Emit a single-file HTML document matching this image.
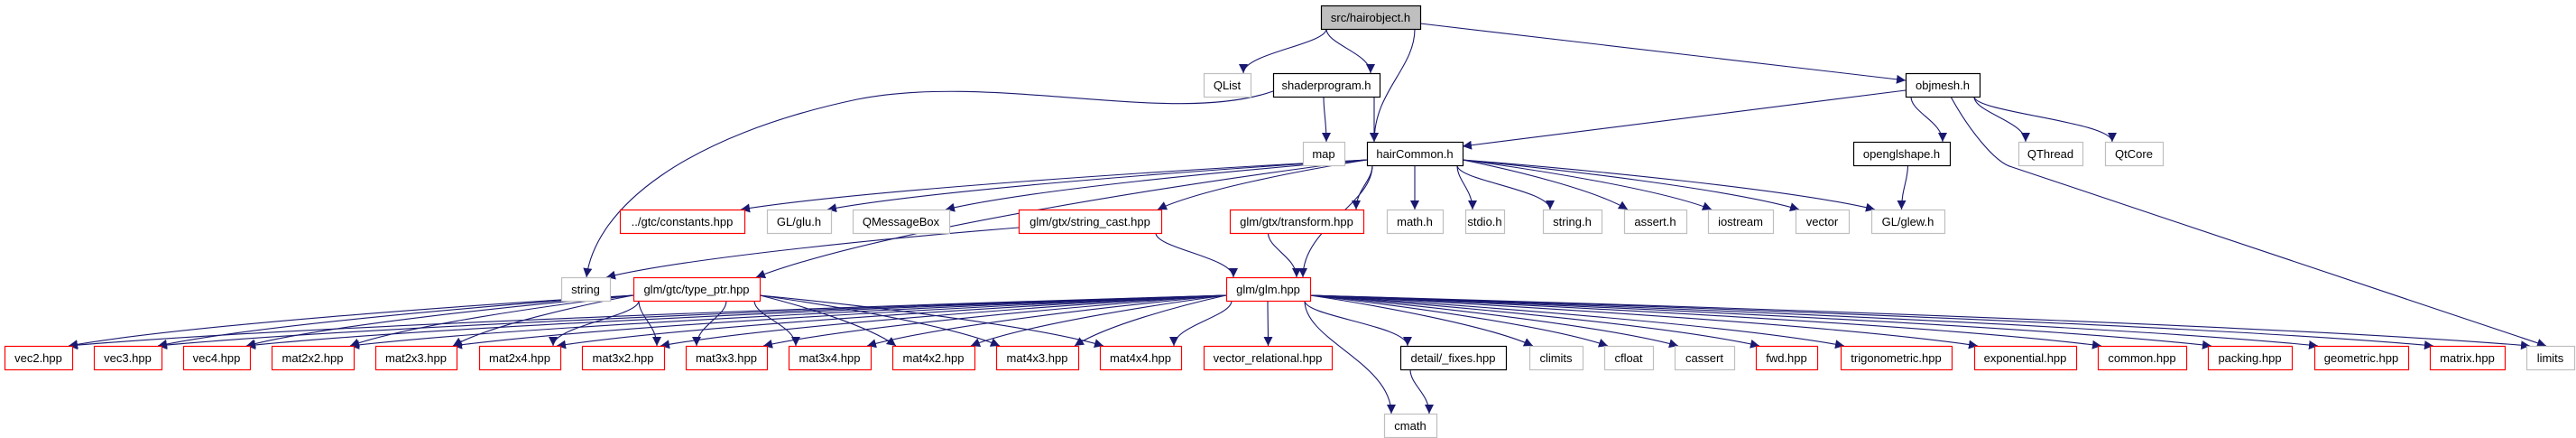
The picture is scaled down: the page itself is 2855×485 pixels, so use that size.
<!DOCTYPE html>
<html><head><meta charset="utf-8"><style>
html,body{margin:0;padding:0;background:#fff;}
svg{display:block;}
text{font-family:"Liberation Sans",sans-serif;font-size:13px;fill:#000;}
</style></head><body>
<svg id="g" width="2855" height="485" viewBox="0 0 2855 485" xmlns="http://www.w3.org/2000/svg">
<defs><marker id="ah" viewBox="0 0 10 10" refX="10" refY="5" markerWidth="10" markerHeight="10" markerUnits="userSpaceOnUse" orient="auto"><path d="M0,0 L10,5 L0,10 z" fill="#191970"/></marker></defs>
<g id="edges"></g>
<g id="nodes"></g>
</svg>
<script>
const rowY = [6, 81, 157, 232, 307, 383, 458];
const nodeIds = ["hairobject","QList","shaderprogram","map","hairCommon","objmesh","openglshape","QThread","QtCore",
"constants","glu","QMessageBox","string_cast","transform","math","stdio","stringh","assert","iostream","vector","glew",
"string","type_ptr","glm",
"vec2","vec3","vec4","mat2x2","mat2x3","mat2x4","mat3x2","mat3x3","mat3x4","mat4x2","mat4x3","mat4x4","vector_relational","fixes","climits","cfloat","cassert","fwd","trig","exponential","common","packing","geometric","matrix","limits",
"cmath"];
const nodeLabels = ["src/hairobject.h","QList","shaderprogram.h","map","hairCommon.h","objmesh.h","openglshape.h","QThread","QtCore",
"../gtc/constants.hpp","GL/glu.h","QMessageBox","glm/gtx/string_cast.hpp","glm/gtx/transform.hpp","math.h","stdio.h","string.h","assert.h","iostream","vector","GL/glew.h",
"string","glm/gtc/type_ptr.hpp","glm/glm.hpp",
"vec2.hpp","vec3.hpp","vec4.hpp","mat2x2.hpp","mat2x3.hpp","mat2x4.hpp","mat3x2.hpp","mat3x3.hpp","mat3x4.hpp","mat4x2.hpp","mat4x3.hpp","mat4x4.hpp","vector_relational.hpp","detail/_fixes.hpp","climits","cfloat","cassert","fwd.hpp","trigonometric.hpp","exponential.hpp","common.hpp","packing.hpp","geometric.hpp","matrix.hpp","limits",
"cmath"];
const nodeX1 = [1464,1334,1411,1444,1515,2112,2054,2237,2333, 687,850,945,1129,1363,1537,1624,1710,1800,1893,1990,2074, 622,702,1359,
5,104,203,301,416,531,645,760,874,989,1104,1219,1334,1552,1695,1778,1856,1946,2040,2188,2325,2447,2565,2693,2800, 1534];
const nodeX2 = [1574,1386,1529,1490,1621,2194,2161,2308,2397, 825,921,1052,1287,1511,1599,1667,1775,1869,1965,2049,2155, 676,842,1452,
80,179,277,392,506,621,736,850,965,1080,1195,1309,1476,1669,1754,1832,1922,2014,2163,2301,2423,2540,2669,2776,2853, 1592];
const nodeRow = [0,1,1,2,2,1,2,2,2, 3,3,3,3,3,3,3,3,3,3,3,3, 4,4,4, 5,5,5,5,5,5,5,5,5,5,5,5,5,5,5,5,5,5,5,5,5,5,5,5,5, 6];
const nodeStyle = ["m","g","b","g","b","b","b","g","g", "r","g","g","r","r","g","g","g","g","g","g","g", "g","r","r",
"r","r","r","r","r","r","r","r","r","r","r","r","r","b","g","g","g","r","r","r","r","r","r","r","g", "g"];
const mats = ["vec2","vec3","vec4","mat2x2","mat2x3","mat2x4","mat3x2","mat3x3","mat3x4","mat4x2","mat4x3","mat4x4"];
const edgeFrom = [];
const edgeTo = [];
function E(a, list){ list.forEach(b=>{edgeFrom.push(a);edgeTo.push(b);}); }
E("hairobject",["QList","shaderprogram","hairCommon","objmesh"]);
E("shaderprogram",["map","hairCommon","string"]);
E("objmesh",["hairCommon","openglshape","QThread","QtCore","limits"]);
E("openglshape",["glew"]);
E("hairCommon",["constants","glu","QMessageBox","string_cast","type_ptr","glm","transform","math","stdio","stringh","assert","iostream","vector","glew"]);
E("string_cast",["string","glm"]);
E("transform",["glm"]);
E("type_ptr",mats);
E("glm",mats.concat(["vector_relational","fixes","climits","cfloat","cassert","fwd","trig","exponential","common","packing","geometric","matrix","limits","cmath"]));
E("fixes",["cmath"]);

const NS="http://www.w3.org/2000/svg", H=26;
const idx = id => nodeIds.indexOf(id);
const nodesG=document.getElementById('nodes'), edgesG=document.getElementById('edges');
const clamp=(v,a,b)=>Math.max(a,Math.min(b,v));
for(let k=0;k<edgeFrom.length;k++){
  const s=idx(edgeFrom[k]), t=idx(edgeTo[k]);
  const sx1=nodeX1[s],sx2=nodeX2[s],tx1=nodeX1[t],tx2=nodeX2[t];
  const scx=(sx1+sx2)/2, tcx=(tx1+tx2)/2;
  const sTop=rowY[nodeRow[s]];
  let x0=clamp(tcx,sx1+6,sx2-6), y0=sTop+H;
  let x1=clamp(scx,tx1+8,tx2-8), y1=rowY[nodeRow[t]];
  const far = Math.abs(tcx-scx) > 4*(y1-y0+10);
  let d;
  if(edgeFrom[k]==="shaderprogram"&&edgeTo[k]==="string"){
    x0=sx1; y0=sTop+20;
    d=`M${x0},${y0} C1300,140 1100,80 950,110 C760,150 660,230 650,${y1}`;
  } else if(edgeFrom[k]==="objmesh"&&edgeTo[k]==="limits"){
    d=`M2162,${y0} C2180,140 2210,180 2230,185 L2822,${y1}`;
  } else if(edgeFrom[k]==="hairobject"&&edgeTo[k]==="objmesh"){
    d=`M${sx2},${sTop+20} L${tx1},${y1+8}`;
  } else if(edgeFrom[k]==="objmesh"&&edgeTo[k]==="hairCommon"){
    d=`M${sx1},${sTop+19} L${tx2},${y1+5}`;
  } else if(far){
    const left = tcx<scx;
    x0 = left? sx1 : sx2; y0 = sTop+H-6;
    x1 = left? tx2-4 : tx1+4;
    const dx=x1-x0, dy=y1-y0;
    d=`M${x0},${y0} C${x0+dx*0.3},${y0+dy*0.2} ${x1-dx*0.2},${y1-dy*0.4} ${x1},${y1}`;
  } else {
    const dy=y1-y0;
    d=`M${x0},${y0} C${x0},${y0+dy*0.35} ${x1},${y1-dy*0.45} ${x1},${y1}`;
  }
  const p=document.createElementNS(NS,'path');
  p.setAttribute('d',d);
  p.setAttribute('fill','none');
  p.setAttribute('stroke','#191970');
  p.setAttribute('stroke-width','1.1');
  p.setAttribute('marker-end','url(#ah)');
  
  
  edgesG.appendChild(p);
}
for(let i=0;i<nodeIds.length;i++){
  const g=document.createElementNS(NS,'g');
  
  
  const r=document.createElementNS(NS,'rect');
  const y=rowY[nodeRow[i]], st=nodeStyle[i];
  r.setAttribute('x',nodeX1[i]+0.5);r.setAttribute('y',y+0.5);
  r.setAttribute('width',nodeX2[i]-nodeX1[i]);r.setAttribute('height',H);
  r.setAttribute('fill',st==='m'?'#bfbfbf':'#fff');
  r.setAttribute('stroke',st==='r'?'#ff0000':(st==='g'?'#bfbfbf':'#000'));
  r.setAttribute('stroke-width','1.2');
  
  
  g.appendChild(r);
  const t=document.createElementNS(NS,'text');
  t.setAttribute('x',(nodeX1[i]+nodeX2[i])/2);t.setAttribute('y',y+18);
  t.setAttribute('text-anchor','middle');
  
  
  t.textContent=nodeLabels[i];
  g.appendChild(t);
  nodesG.appendChild(g);
}
</script>
</body></html>
